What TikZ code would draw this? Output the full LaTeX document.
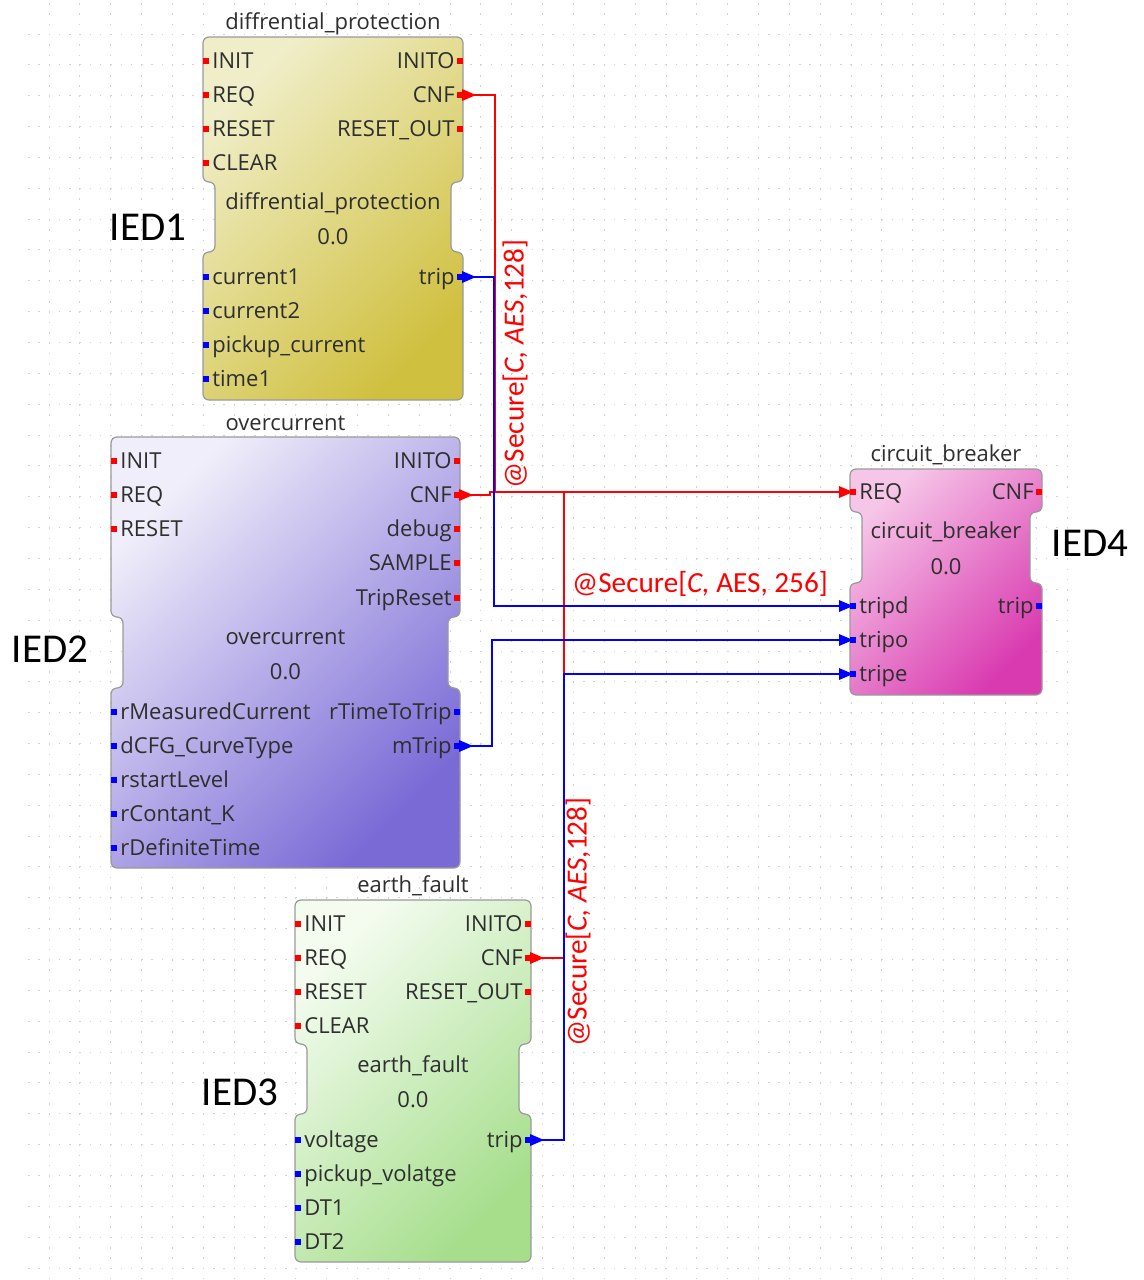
\documentclass[tikz,border=0pt]{standalone}
\usepackage{fontspec}
\newfontfamily\blockfont{Open Sans}
\newfontfamily\calib{Carlito}
\usetikzlibrary{calc}
\definecolor{txt}{HTML}{2E2E2E}
\definecolor{dLight}{HTML}{F0EEC8}\definecolor{dDark}{HTML}{D0C040}
\definecolor{oLight}{HTML}{F0EEFA}\definecolor{oDark}{HTML}{7A6AD6}
\definecolor{eLight}{HTML}{F4FCF0}\definecolor{eDark}{HTML}{A6DE8C}
\definecolor{cLight}{HTML}{F6C6E8}\definecolor{cDark}{HTML}{D93AB0}
\definecolor{edgegray}{HTML}{9A9A9A}
\tikzset{
  lab/.style={font=\blockfont\fontsize{11}{13}\selectfont, text=txt, inner sep=0pt},
  sec/.style={font=\calib\fontsize{14.6}{17}\selectfont, text=red, inner sep=0pt},
  ied/.style={font=\calib\fontsize{20.5}{24}\selectfont, text=black, inner sep=0pt},
  evw/.style={draw=red, line width=0.8pt},
  dtw/.style={draw=blue, line width=0.8pt},
  blockedge/.style={draw=edgegray, line width=0.6pt, rounded corners=3pt},
  gridl/.style={draw=gray!35, line width=0.5pt, dash pattern=on 0.75pt off 4.39pt},
}
\newcommand\fbShape[8]{%
  \path[blockedge, top color=#7, bottom color=#8, shading angle=45]
   ({(#1+#2)/2},#3) -- (#2,#3) -- (#2,#5) -- ({#2-12},#5) -- ({#2-12},#6) -- (#2,#6)
   -- (#2,#4) -- (#1,#4) -- (#1,#6) -- ({#1+12},#6) -- ({#1+12},#5) -- (#1,#5)
   -- (#1,#3) -- cycle;}
\newcommand\fbLport[5]{%
  \fill[#5] (#2,#3-3) rectangle (#2+6,#3+3);
  \node[lab, anchor=base west] (#1) at (#2+9,#3+7) {#4};}
\newcommand\fbRport[5]{%
  \fill[#5] (#2-6,#3-3) rectangle (#2,#3+3);
  \node[lab, anchor=base east] (#1) at (#2-8,#3+7) {#4};}
\newcommand\fbText[4]{\node[lab, anchor=base] (#1) at (#2,#3+7) {#4};}
\begin{document}
\begin{tikzpicture}[x=0.5pt,y=-0.5pt]
\useasboundingbox (0,0) rectangle (1144,1280);
\fill[white] (0,0) rectangle (1144,1280);
% grid
\foreach \i in {0,...,33} \draw[gridl] ({49+30.85*\i},3.15) -- ({49+30.85*\i},1280);
\foreach \j in {0,...,40} \draw[gridl] (28,{34+30.85*\j}) -- (1066,{34+30.85*\j});

% ---------- IED1: diffrential_protection
\fbShape{203}{463}{37}{400}{182}{252}{dLight}{dDark}
\fbText{D-title}{333}{22}{diffrential\_protection}
\fbLport{D-init}{203}{61}{INIT}{red}
\fbLport{D-req}{203}{95}{REQ}{red}
\fbLport{D-reset}{203}{129}{RESET}{red}
\fbLport{D-clear}{203}{163}{CLEAR}{red}
\fbRport{D-inito}{463}{61}{INITO}{red}
\fbRport{D-cnfl}{463}{95}{CNF}{red}
\fbRport{D-rout}{463}{129}{RESET\_OUT}{red}
\fbText{D-type}{333}{202}{diffrential\_protection}
\fbText{D-ver}{333}{237}{0.0}
\fbLport{D-c1}{203}{277}{current1}{blue}
\fbLport{D-c2}{203}{311}{current2}{blue}
\fbLport{D-pc}{203}{345}{pickup\_current}{blue}
\fbLport{D-t1}{203}{379}{time1}{blue}
\fbRport{D-tripl}{463}{277}{trip}{blue}

% ---------- IED2: overcurrent
\fbShape{111}{460}{437}{868}{617}{688}{oLight}{oDark}
\fbText{O-title}{285.5}{423}{overcurrent}
\fbLport{O-init}{111}{461}{INIT}{red}
\fbLport{O-req}{111}{495}{REQ}{red}
\fbLport{O-reset}{111}{529}{RESET}{red}
\fbRport{O-inito}{460}{461}{INITO}{red}
\fbRport{O-cnfl}{460}{495}{CNF}{red}
\fbRport{O-debug}{460}{529}{debug}{red}
\fbRport{O-sample}{460}{563}{SAMPLE}{red}
\fbRport{O-tripreset}{460}{598}{TripReset}{red}
\fbText{O-type}{285.5}{637}{overcurrent}
\fbText{O-ver}{285.5}{672}{0.0}
\fbLport{O-rmc}{111}{712}{rMeasuredCurrent}{blue}
\fbLport{O-dcfg}{111}{746}{dCFG\_CurveType}{blue}
\fbLport{O-rsl}{111}{780}{rstartLevel}{blue}
\fbLport{O-rck}{111}{814}{rContant\_K}{blue}
\fbLport{O-rdt}{111}{848}{rDefiniteTime}{blue}
\fbRport{O-rttt}{460}{712}{rTimeToTrip}{blue}
\fbRport{O-mtripl}{460}{746}{mTrip}{blue}

% ---------- IED3: earth_fault
\fbShape{295}{531}{900}{1262}{1044}{1114}{eLight}{eDark}
\fbText{E-title}{413}{885}{earth\_fault}
\fbLport{E-init}{295}{924}{INIT}{red}
\fbLport{E-req}{295}{958}{REQ}{red}
\fbLport{E-reset}{295}{992}{RESET}{red}
\fbLport{E-clear}{295}{1026}{CLEAR}{red}
\fbRport{E-inito}{531}{924}{INITO}{red}
\fbRport{E-cnfl}{531}{958}{CNF}{red}
\fbRport{E-rout}{531}{992}{RESET\_OUT}{red}
\fbText{E-type}{413}{1065}{earth\_fault}
\fbText{E-ver}{413}{1100}{0.0}
\fbLport{E-volt}{295}{1140}{voltage}{blue}
\fbLport{E-pv}{295}{1174}{pickup\_volatge}{blue}
\fbLport{E-dt1}{295}{1208}{DT1}{blue}
\fbLport{E-dt2}{295}{1242}{DT2}{blue}
\fbRport{E-tripl}{531}{1140}{trip}{blue}

% ---------- IED4: circuit_breaker
\fbShape{850}{1042}{469}{695}{512}{583}{cLight}{cDark}
\fbText{C-title}{946}{454}{circuit\_breaker}
\fbLport{C-reql}{850}{492}{REQ}{red}
\fbRport{C-cnf}{1042}{492}{CNF}{red}
\fbText{C-type}{946}{531}{circuit\_breaker}
\fbText{C-ver}{946}{567}{0.0}
\fbLport{C-tripdl}{850}{606}{tripd}{blue}
\fbLport{C-tripol}{850}{640}{tripo}{blue}
\fbLport{C-tripel}{850}{674}{tripe}{blue}
\fbRport{C-trip}{1042}{606}{trip}{blue}

% ---------- port coordinates
\coordinate (D-cnf) at (463,95);
\coordinate (D-trip) at (463,277);
\coordinate (O-cnf) at (460,495);
\coordinate (O-mtrip) at (460,746);
\coordinate (E-cnf) at (531,958);
\coordinate (E-trip) at (531,1140);
\coordinate (C-req) at (850,492);
\coordinate (C-tripd) at (850,606);
\coordinate (C-tripo) at (850,640);
\coordinate (C-tripe) at (850,674);
\coordinate (j1) at (495,492);
\coordinate (j2) at (564,492);
\coordinate (b1) at (494,277);
\coordinate (b2) at (492,746);
\coordinate (b3) at (564,1140);

% ---------- event connectors
\draw[evw] (D-cnf) -| (j1) -- (C-req);
\draw[evw] (O-cnf) -- ++(30,0) -- ++(0,-3) -- (j1);
\draw[evw] (E-cnf) -| (j2);
% ---------- data connectors
\draw[dtw] (D-trip) -- (b1) |- (C-tripd);
\draw[dtw] (O-mtrip) -- (b2) |- (C-tripo);
\draw[dtw] (E-trip) -- (b3) |- (C-tripe);

% ---------- tips
\foreach \p in {D-cnf,O-cnf,E-cnf}
  \fill[red] (\p) ++(-1,-6) -- ++(14,6) -- ++(-14,6) -- cycle;
\foreach \p in {D-trip,O-mtrip,E-trip}
  \fill[blue] (\p) ++(-1,-6) -- ++(14,6) -- ++(-14,6) -- cycle;
\fill[red] (C-req) ++(-11,-6) -- ++(14,6) -- ++(-14,6) -- cycle;
\foreach \p in {C-tripd,C-tripo,C-tripe}
  \fill[blue] (\p) ++(-11,-6) -- ++(14,6) -- ++(-14,6) -- cycle;

% ---------- security labels
\node[sec, rotate=90] (s1) at (515,364) {@Secure[\textit{C, AES},128]};
\node[sec] (s2) at (700,584) {@Secure[\textit{C,} AES, 256]};
\node[sec, rotate=90] (s3) at (578,922) {@Secure[\textit{C, AES},128]};

% ---------- IED labels
\node[ied] (ied1) at (148,227) {IED1};
\node[ied] (ied2) at (50,649) {IED2};
\node[ied] (ied3) at (240,1092) {IED3};
\node[ied] (ied4) at (1090,543) {IED4};
\end{tikzpicture}
\end{document}
